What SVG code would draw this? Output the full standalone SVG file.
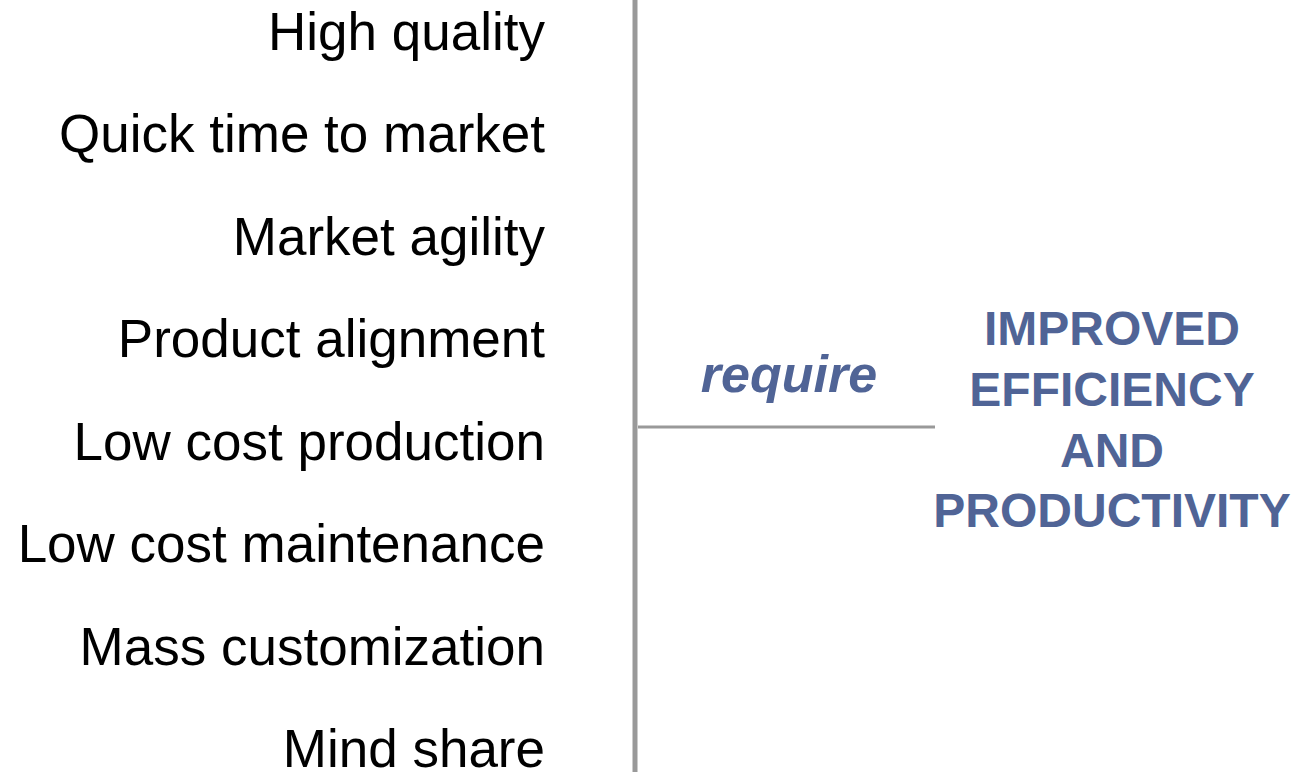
<svg xmlns="http://www.w3.org/2000/svg" width="1296" height="772" viewBox="0 0 1296 772">
<style>
.item{font-family:"Liberation Sans",Arial,sans-serif;font-size:53px;fill:#000;text-anchor:end}
.goal{font-family:"Liberation Sans",Arial,sans-serif;font-size:48px;font-weight:bold;fill:#506496;text-anchor:middle}
.req{font-family:"Liberation Sans",Arial,sans-serif;font-size:52px;font-weight:bold;font-style:italic;fill:#506496;text-anchor:middle}
</style>
<rect width="1296" height="772" fill="#fff"/>
<g id="connectors">
<line x1="635" y1="0" x2="635" y2="772" stroke="#999" stroke-width="5"/>
<line x1="638" y1="427" x2="935" y2="427" stroke="#999" stroke-width="3"/>
</g>
<g id="items">
<text class="item" x="545" y="50">High quality</text>
<text class="item" x="545" y="152">Quick time to market</text>
<text class="item" x="545" y="255">Market agility</text>
<text class="item" x="545" y="357">Product alignment</text>
<text class="item" x="545" y="460">Low cost production</text>
<text class="item" x="545" y="562">Low cost maintenance</text>
<text class="item" x="545" y="665">Mass customization</text>
<text class="item" x="545" y="767">Mind share</text>
</g>
<g id="require">
<text class="req" x="789" y="392">require</text>
</g>
<g id="goal">
<text class="goal" x="1112" y="345">IMPROVED</text>
<text class="goal" x="1112" y="406">EFFICIENCY</text>
<text class="goal" x="1112" y="467">AND</text>
<text class="goal" x="1112" y="527">PRODUCTIVITY</text>
</g>
</svg>
